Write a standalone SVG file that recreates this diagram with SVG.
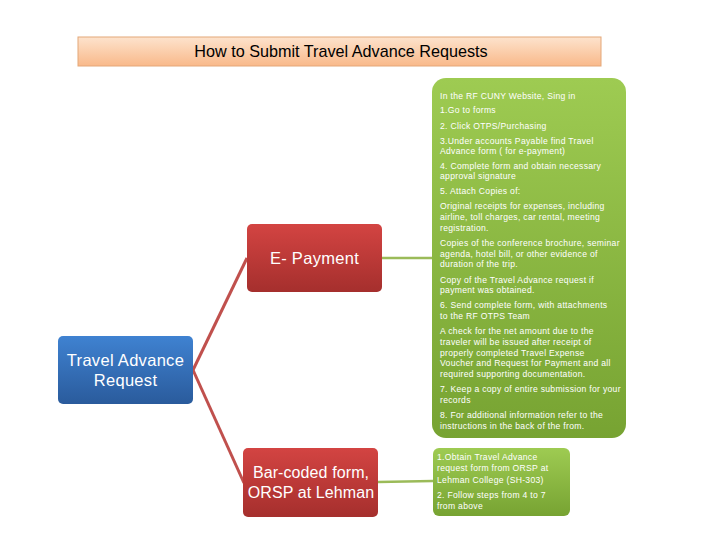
<svg xmlns="http://www.w3.org/2000/svg" width="720" height="540" viewBox="0 0 720 540">
<defs>
<linearGradient id="gTitle" x1="0" y1="0" x2="0" y2="1"><stop offset="0" stop-color="#fde3cd"/><stop offset="1" stop-color="#f9b98a"/></linearGradient>
<linearGradient id="gBlue" x1="0" y1="0" x2="0" y2="1"><stop offset="0" stop-color="#3f82d1"/><stop offset="1" stop-color="#2a5b9c"/></linearGradient>
<linearGradient id="gRed" x1="0" y1="0" x2="0" y2="1"><stop offset="0" stop-color="#d34442"/><stop offset="1" stop-color="#a52f2d"/></linearGradient>
<linearGradient id="gGreen" x1="0" y1="0" x2="0" y2="1"><stop offset="0" stop-color="#9ecb52"/><stop offset="1" stop-color="#77a332"/></linearGradient>
</defs>
<style>
.node{font-family:"Liberation Sans","DejaVu Sans",sans-serif;fill:#ffffff;text-anchor:middle}
.big{font-size:16.5px;letter-spacing:0.3px}
.tight{font-size:16px;letter-spacing:0.1px}
.small{font-family:"Liberation Sans","DejaVu Sans",sans-serif;fill:#ffffff;font-size:8.6px;letter-spacing:0.3px}
.red{stroke:#c0504d;stroke-width:3;fill:none}
.grn{stroke:#9bbb59;stroke-width:2.5;fill:none}
</style>
<rect width="720" height="540" fill="#ffffff"/>
<g id="title">
<rect x="78" y="37" width="523" height="29" fill="url(#gTitle)" stroke="#e4a778" stroke-width="1"/>
<text x="341" y="56.5" font-family="'Liberation Sans','DejaVu Sans',sans-serif" font-size="16.2" text-anchor="middle" fill="#000000">How to Submit Travel Advance Requests</text>
</g>
<g id="connectors">
<line class="red" x1="193" y1="370" x2="247" y2="258"/>
<line class="red" x1="193" y1="370" x2="244" y2="483"/>
<line class="grn" x1="382" y1="258" x2="433" y2="258"/>
<line class="grn" x1="378" y1="482" x2="433" y2="481"/>
</g>
<g id="travel-advance-request">
<rect x="58" y="336" width="135" height="68" rx="5" fill="url(#gBlue)"/>
<text class="node big" x="125.5" y="365.5">Travel Advance</text>
<text class="node big" x="125.5" y="385.5">Request</text>
</g>
<g id="e-payment">
<rect x="247" y="224" width="135" height="68" rx="5" fill="url(#gRed)"/>
<text class="node big" x="314.5" y="263.5">E- Payment</text>
</g>
<g id="bar-coded">
<rect x="243" y="448" width="135" height="69" rx="5" fill="url(#gRed)"/>
<text class="node tight" x="311" y="477.5">Bar-coded form,</text>
<text class="node tight" x="311" y="497.5">ORSP at Lehman</text>
</g>
<g id="e-payment-steps">
<rect x="432" y="78" width="194" height="360" rx="14" fill="url(#gGreen)"/>
<text class="small" x="440" y="99">In the RF CUNY Website, Sing in</text>
<text class="small" x="440" y="113">1.Go to forms</text>
<text class="small" x="440" y="129">2. Click OTPS/Purchasing</text>
<text class="small" x="440" y="144">3.Under accounts Payable find Travel</text>
<text class="small" x="440" y="154">Advance form ( for e-payment)</text>
<text class="small" x="440" y="169">4. Complete form and obtain necessary</text>
<text class="small" x="440" y="179">approval signature</text>
<text class="small" x="440" y="194">5. Attach Copies of:</text>
<text class="small" x="440" y="209">Original receipts for expenses, including</text>
<text class="small" x="440" y="220">airline, toll charges, car rental, meeting</text>
<text class="small" x="440" y="231">registration.</text>
<text class="small" x="440" y="246">Copies of the conference brochure, seminar</text>
<text class="small" x="440" y="257">agenda, hotel bill, or other evidence of</text>
<text class="small" x="440" y="267">duration of the trip.</text>
<text class="small" x="440" y="283">Copy of the Travel Advance request if</text>
<text class="small" x="440" y="293">payment was obtained.</text>
<text class="small" x="440" y="308">6. Send complete form, with attachments</text>
<text class="small" x="440" y="319">to the RF OTPS Team</text>
<text class="small" x="440" y="334">A check for the net amount due to the</text>
<text class="small" x="440" y="345">traveler will be issued after receipt of</text>
<text class="small" x="440" y="356">properly completed Travel Expense</text>
<text class="small" x="440" y="366">Voucher and Request for Payment and all</text>
<text class="small" x="440" y="377">required supporting documentation.</text>
<text class="small" x="440" y="392">7. Keep a copy of entire submission for your</text>
<text class="small" x="440" y="403">records</text>
<text class="small" x="440" y="418">8. For additional information refer to the</text>
<text class="small" x="440" y="429">instructions in the back of the from.</text>
</g>
<g id="bar-coded-steps">
<rect x="433" y="448" width="137" height="68" rx="6" fill="url(#gGreen)"/>
<text class="small" x="437" y="460">1.Obtain Travel Advance</text>
<text class="small" x="437" y="471">request form from ORSP at</text>
<text class="small" x="437" y="483">Lehman College (SH-303)</text>
<text class="small" x="437" y="498">2. Follow steps from 4 to 7</text>
<text class="small" x="437" y="509">from above</text>
</g>
</svg>
